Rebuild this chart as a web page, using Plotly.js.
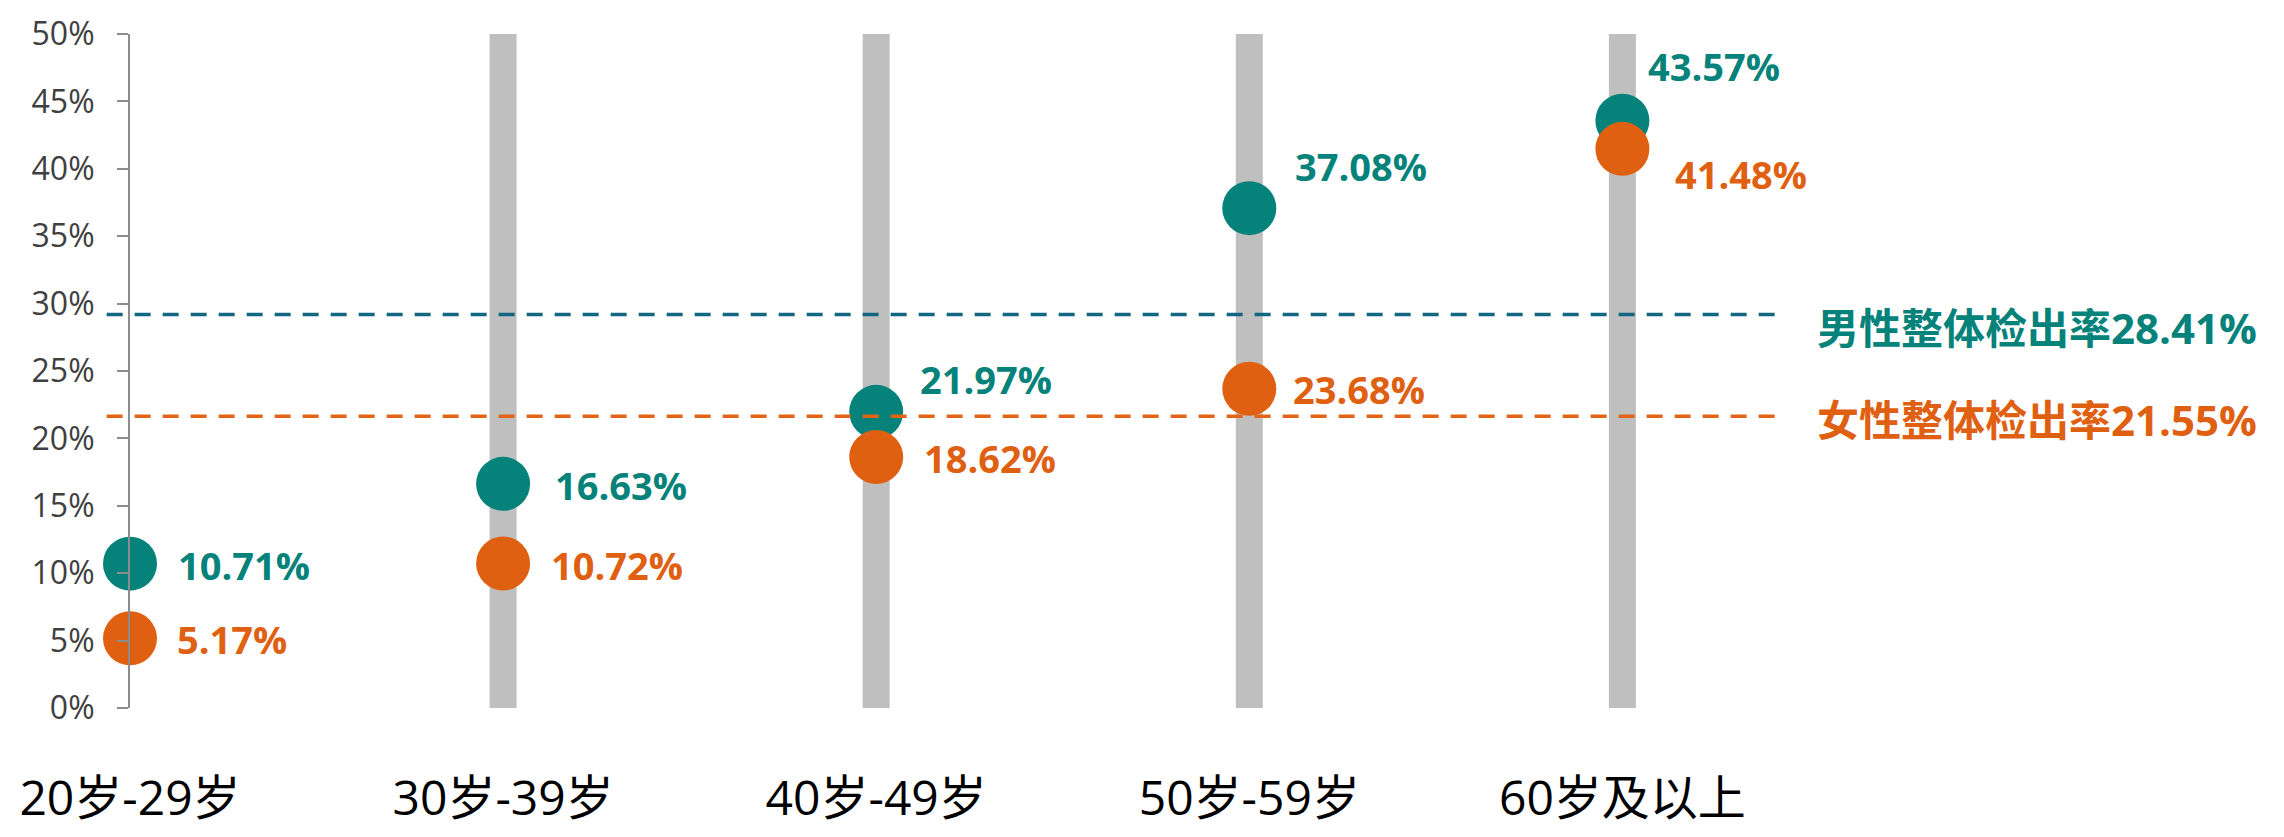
<!DOCTYPE html>
<html>
<head>
<meta charset="utf-8">
<script src="https://cdn.plot.ly/plotly-3.0.1.min.js"></script>
<style>
  html, body { margin: 0; padding: 0; background: #ffffff; }
  #chart { width: 2284px; height: 837px; }
</style>
</head>
<body>
<div id="chart"></div>
<script>
// ---- data ----
const categories = ['20岁-29岁', '30岁-39岁', '40岁-49岁', '50岁-59岁', '60岁及以上'];
const maleRates = [10.71, 16.63, 21.97, 37.08, 43.57];
const femaleRates = [5.17, 10.72, 18.62, 23.68, 41.48];
const overallNames = ['男性整体检出率', '女性整体检出率'];
const overallRates = [28.41, 21.55];          // printed values
const overallLineLevels = [29.2, 21.65];      // where the dashed lines sit in the picture
const trackCategories = categories.slice(1);  // grey tracks are drawn for these groups
const yTicks = [0, 5, 10, 15, 20, 25, 30, 35, 40, 45, 50];

// ---- styles ----
const TEAL = '#05827A';
const ORANGE = '#E06012';
const BLUE_LINE = '#13667F';
const ORANGE_LINE = '#E36414';
const GREY = '#BFBFBF';
const AXIS = '#8C8C8C';
const LATIN = 'Open Sans, Noto Sans CJK SC, sans-serif';
const yMax = yTicks[yTicks.length - 1];

// label offsets in pixels (dx to text left, dy of text centre, + = down)
const maleOffsets = [[46, 1], [50, 1], [42, -33], [44, -42], [24, -55]];
const femaleOffsets = [[45, 1], [46, 2], [46, 1], [42, 0], [51, 25]];

const fmt = v => v.toFixed(2) + '%';

const traces = [
  {
    type: 'bar',
    x: trackCategories,
    y: trackCategories.map(() => yMax),
    width: 0.0724,
    marker: { color: GREY },
    hoverinfo: 'skip',
    showlegend: false
  },
  {
    type: 'scatter',
    mode: 'markers',
    name: '男性',
    x: categories,
    y: maleRates,
    marker: { size: 54, color: TEAL },
    cliponaxis: false,
    showlegend: false
  },
  {
    type: 'scatter',
    mode: 'markers',
    name: '女性',
    x: categories,
    y: femaleRates,
    marker: { size: 54, color: ORANGE },
    cliponaxis: false,
    showlegend: false
  }
];

const annotations = [];
categories.forEach((c, i) => {
  annotations.push({
    x: c, y: maleRates[i], xref: 'x', yref: 'y',
    text: fmt(maleRates[i]), showarrow: false,
    xanchor: 'left', yanchor: 'middle',
    xshift: maleOffsets[i][0], yshift: -maleOffsets[i][1],
    font: { family: LATIN, size: 38, color: TEAL, weight: 'bold' }
  });
  annotations.push({
    x: c, y: femaleRates[i], xref: 'x', yref: 'y',
    text: fmt(femaleRates[i]), showarrow: false,
    xanchor: 'left', yanchor: 'middle',
    xshift: femaleOffsets[i][0], yshift: -femaleOffsets[i][1],
    font: { family: LATIN, size: 38, color: ORANGE, weight: 'bold' }
  });
});
const overallColors = [TEAL, ORANGE];
overallRates.forEach((v, i) => {
  annotations.push({
    x: 1.0243, y: v, xref: 'paper', yref: 'y',
    text: overallNames[i] + fmt(v), showarrow: false,
    xanchor: 'left', yanchor: 'middle', yshift: -2,
    font: { family: LATIN, size: 42, color: overallColors[i], weight: 'bold' }
  });
});

const lineColors = [BLUE_LINE, ORANGE_LINE];
const shapes = overallLineLevels.map((lv, i) => ({
  type: 'line', xref: 'paper', yref: 'y',
  x0: -0.0142, x1: 1, y0: lv, y1: lv,
  layer: 'above',
  line: { color: lineColors[i], width: 3.5, dash: '16px,12px' }
}));

const layout = {
  width: 2284,
  height: 837,
  margin: { l: 130, r: 2284 - 1775, t: 34, b: 129, pad: 0 },
  paper_bgcolor: '#ffffff',
  plot_bgcolor: '#ffffff',
  showlegend: false,
  xaxis: {
    type: 'category',
    categoryorder: 'array',
    categoryarray: categories,
    range: [0, 4.409],
    showgrid: false,
    zeroline: false,
    showline: false,
    ticks: '',
    ticklabelstandoff: 58,
    tickfont: { family: LATIN, size: 48, color: '#000000' },
    fixedrange: true
  },
  yaxis: {
    range: [0, yMax],
    tickvals: yTicks,
    ticktext: yTicks.map(t => t + '%'),
    showgrid: false,
    zeroline: false,
    showline: true,
    linecolor: AXIS,
    linewidth: 2,
    ticks: 'outside',
    ticklen: 11,
    tickwidth: 2,
    tickcolor: AXIS,
    ticklabelstandoff: 16,
    tickfont: { family: LATIN, size: 32, color: '#404040' },
    fixedrange: true
  },
  annotations: annotations,
  shapes: shapes
};

Plotly.newPlot('chart', traces, layout, { displayModeBar: false, staticPlot: true });
</script>
</body>
</html>
